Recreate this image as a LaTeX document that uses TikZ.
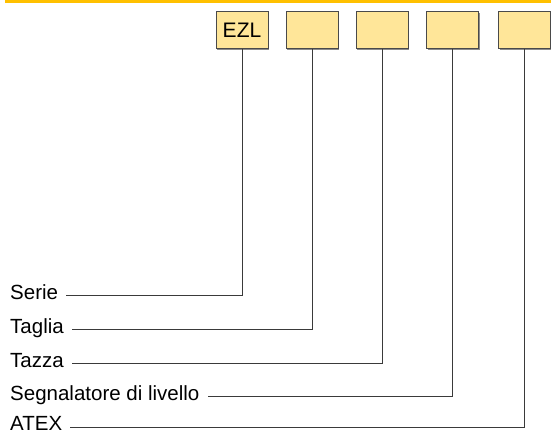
\documentclass[tikz,border=0pt]{standalone}
\usepackage{fontspec}
\setmainfont{Liberation Sans}
\usetikzlibrary{shadows}
\definecolor{barorange}{HTML}{FFC000}
\definecolor{boxfill}{HTML}{FFE699}
\definecolor{boxline}{HTML}{4A4A4A}
\definecolor{conline}{HTML}{3A3A3A}
\begin{document}
\begin{tikzpicture}[x=1pt,y=-1pt,
  codebox/.style={draw=boxline, line width=1pt, fill=boxfill, minimum width=52pt, minimum height=37pt, inner sep=0pt, anchor=north,
    drop shadow={shadow xshift=1pt, shadow yshift=-1pt, fill=black!45, opacity=1}, font=\fontsize{21}{25}\selectfont},
  lbl/.style={anchor=base west, inner sep=0pt, font=\fontsize{20.5}{24}\selectfont},
  con/.style={draw=conline, line width=1pt}]
\useasboundingbox (0,0) rectangle (551,432);
\fill[barorange] (5,0) rectangle (551,3);
% boxes
\node[codebox] (b1) at (242,11) {EZL};
\node[codebox] (b2) at (312,11) {};
\node[codebox] (b3) at (382,11) {};
\node[codebox] (b4) at (452.5,11) {};
\node[codebox] (b5) at (524.5,11) {};
% labels
\node[lbl] (l1) at (10,299) {Serie};
\node[lbl] (l2) at (10,333) {Taglia};
\node[lbl] (l3) at (10,367) {Tazza};
\node[lbl] (l4) at (10,400) {Segnalatore di livello};
\node[lbl] (l5) at (10,430) {ATEX};
% connectors
\draw[con] (b1.south) |- ([xshift=8pt,yshift=4pt]l1.base east);
\draw[con] (b2.south) |- ([xshift=8pt,yshift=4pt]l2.base east);
\draw[con] (b3.south) |- ([xshift=8pt,yshift=4pt]l3.base east);
\draw[con] (b4.south) |- ([xshift=8pt,yshift=4pt]l4.base east);
\draw[con] (b5.south) |- ([xshift=8pt,yshift=3pt]l5.base east);
\end{tikzpicture}
\end{document}
